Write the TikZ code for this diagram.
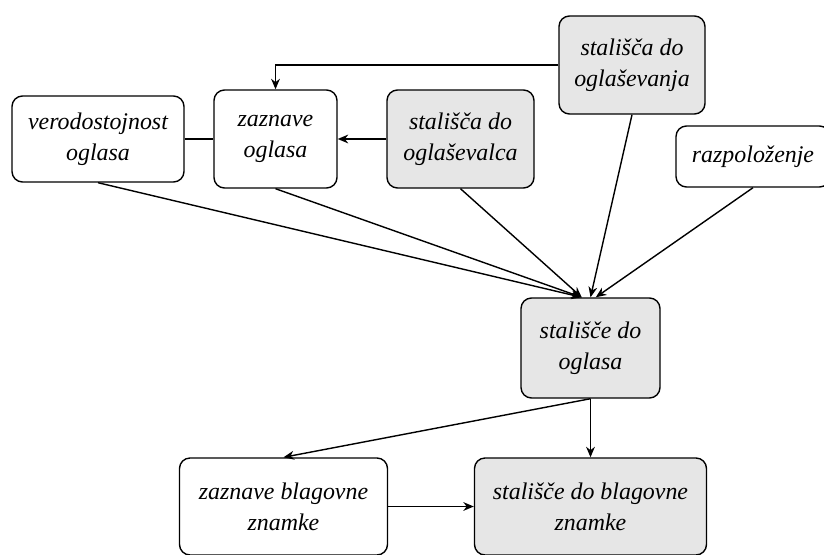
\documentclass[tikz,border=0pt]{standalone}
\usepackage{fontspec}
\setmainfont{Liberation Serif}
\usepackage{tikz}
\usetikzlibrary{positioning,arrows.meta}

\definecolor{boxgray}{HTML}{E6E6E6}
\tikzset{
  box/.style={draw,rounded corners=6pt,align=center,line width=0.8pt,
    font=\itshape\fontsize{13.6}{17.8}\selectfont,inner sep=2pt},
  graybox/.style={box,fill=boxgray}
}

\begin{document}
\begin{tikzpicture}[->,>={Stealth[length=6pt,width=5pt]},on grid,line width=0.8pt]
      \useasboundingbox (-1.96,-8.3) rectangle (14.52,2.78);
      \node[box,minimum width=3.44cm,minimum height=1.72cm] (vo) {verodostojnost\\oglasa};
      \node[box,minimum width=2.46cm,minimum height=1.96cm] (zo) [right=3.55cm of vo] {zaznave\\oglasa};
      \node[graybox,minimum width=2.94cm,minimum height=1.96cm] (sdo) [right=3.7cm of zo] {stališča do\\oglaševalca};
      \node[graybox,minimum width=2.92cm,minimum height=1.96cm] (sdog) [above right=1.48cm and 3.43cm of sdo] {stališča do\\oglaševanja};
      \node[box,minimum width=3.08cm,minimum height=1.22cm] (raz) [below right=1.83cm and 2.42cm of sdog] {razpoloženje};
      \node[graybox,minimum width=2.78cm,minimum height=2cm] (ad) [below right=4.18cm and 2.6cm of sdo] {stališče do\\oglasa};
      \node[graybox,minimum width=4.64cm,minimum height=1.94cm] (sbz) [below=3.17cm of ad] {stališče do blagovne\\znamke};
      \node[box,minimum width=4.16cm,minimum height=1.94cm] (zbz) [left=6.14cm of sbz] {zaznave blagovne\\znamke};
      \draw (sdog.west) -| (zo.north);
      \draw[-] (vo) -- (zo);
      \path
        (sdo) edge (zo)
        (vo.south) edge ([xshift=-5pt]ad.north)
        (zo.south) edge ([xshift=-5pt]ad.north)
        (sdo.south) edge ([xshift=-5pt]ad.north)
        (sdog.south) edge (ad.north)
        (raz.south) edge ([xshift=3pt]ad.north)
        (ad.south) edge (zbz.north)
        (ad.south) edge (sbz.north)
        (zbz) edge (sbz);
\end{tikzpicture}
\end{document}
